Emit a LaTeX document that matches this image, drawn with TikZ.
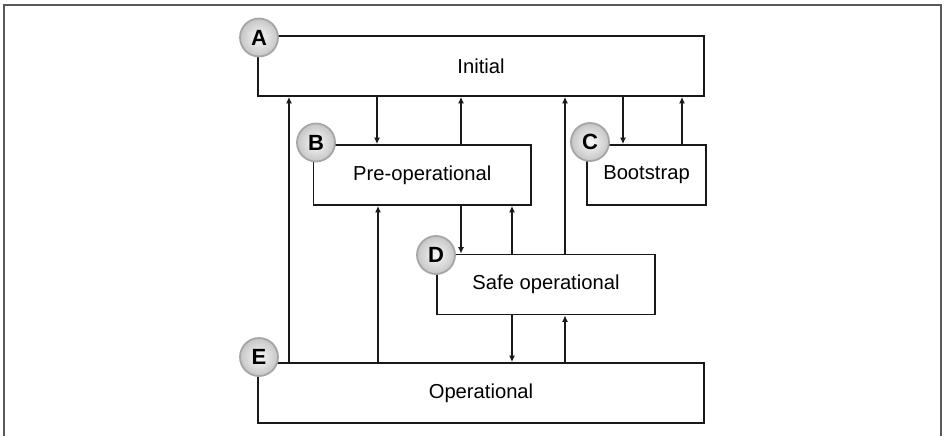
\documentclass[tikz,border=0pt]{standalone}
\usepackage{fontspec}
\setmainfont{Liberation Sans}
\usetikzlibrary{arrows.meta}
\begin{document}
\begin{tikzpicture}[x=1pt,y=-1pt,
  box/.style={draw=black!90, line width=1.7pt, fill=white, inner sep=0pt, font=\fontsize{20.2}{22}\selectfont},
  arr/.style={line width=1.5pt, draw=black!90, -{Latex[length=6.5pt,width=6pt]}},
  badge/.style={circle, minimum size=38pt, inner sep=0pt, draw=gray!70, line width=1.8pt,
    inner color=gray!5, outer color=gray!45, font=\fontsize{22}{22}\selectfont\bfseries}]
\useasboundingbox (0,0) rectangle (944,436);
\draw[gray!70!black, line width=1.2pt] (4,436) -- (4,5) -- (941,5) -- (941,436);

\node[box, minimum width=446pt, minimum height=60pt] (init) at (481,66) {Initial};
\node[box, minimum width=217.5pt, minimum height=60pt] (pre) at (422.25,175) {Pre-operational};
\node[box, minimum width=119pt, minimum height=60pt] (boot) at (646.5,175) {Bootstrap};
\node[box, minimum width=218pt, minimum height=60pt] (safe) at (546,284.5) {Safe operational};
\node[box, minimum width=446pt, minimum height=60pt] (op) at (481,393) {Operational};

% Initial <-> others
\draw[arr] (op.north -| 289,0) -- (init.south -| 289,0);
\draw[arr] (init.south -| 377,0) -- (pre.north -| 377,0);
\draw[arr] (pre.north -| 461,0) -- (init.south -| 461,0);
\draw[arr] (safe.north -| 565,0) -- (init.south -| 565,0);
\draw[arr] (init.south -| 623,0) -- (boot.north -| 623,0);
\draw[arr] (boot.north -| 682,0) -- (init.south -| 682,0);
% Pre-op <-> others
\draw[arr] (op.north -| 378,0) -- (pre.south -| 378,0);
\draw[arr] (pre.south -| 461,0) -- (safe.north -| 461,0);
\draw[arr] (safe.north -| 512,0) -- (pre.south -| 512,0);
% Safe op <-> Operational
\draw[arr] (safe.south -| 512,0) -- (op.north -| 512,0);
\draw[arr] (op.north -| 565,0) -- (safe.south -| 565,0);

\node[badge] (ba) at (259,37.5) {A};
\node[badge] (bb) at (316,142.5) {B};
\node[badge] (bc) at (590,142) {C};
\node[badge] (bd) at (436,255) {D};
\node[badge] (be) at (259,357) {E};
\end{tikzpicture}
\end{document}
